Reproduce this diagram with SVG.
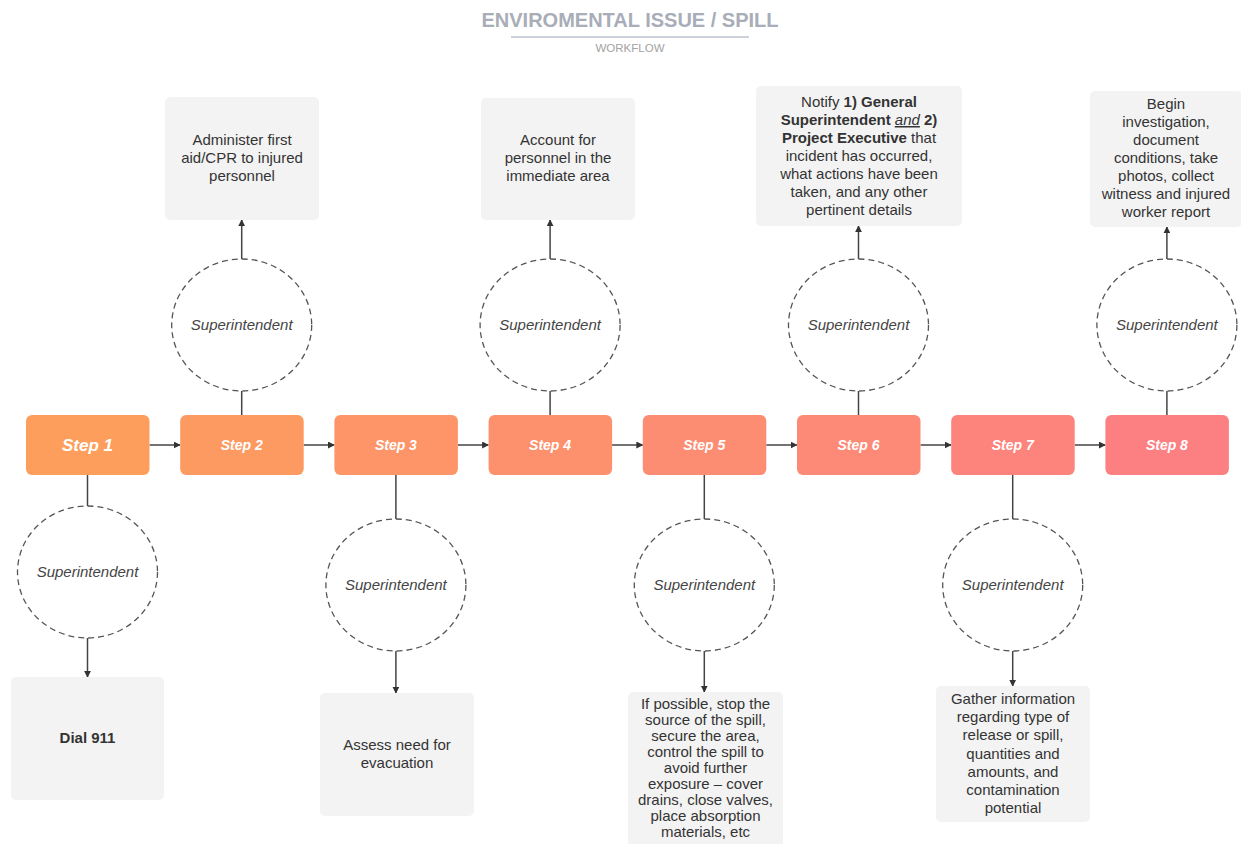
<svg xmlns="http://www.w3.org/2000/svg" width="1241" height="844" viewBox="0 0 1241 844">
<style>
text{font-family:"Liberation Sans",Arial,sans-serif}
.title{font-size:20px;font-weight:bold;fill:#A8ADB7}
.sub{font-size:11.5px;fill:#A3A3A3}
.step{fill:#fff;font-weight:bold;font-style:italic;font-size:14px}
.step1{font-size:17px}
.role{font-style:italic;font-size:15px;fill:#444}
.txt{font-size:15px;fill:#333}
.b{font-weight:bold}
.card{fill:#F3F3F3}
.ring{fill:#fff;stroke:#555;stroke-width:1.3;stroke-dasharray:6 4}
.c{stroke:#444;stroke-width:1.5;fill:none}
.a{stroke:#444;stroke-width:1.5;fill:none;marker-end:url(#ah)}
</style>
<defs>
<marker id="ah" viewBox="0 0 10 10" refX="9" refY="5" markerWidth="7" markerHeight="7" orient="auto" markerUnits="userSpaceOnUse">
<path d="M0,0 L10,5 L0,10 z" fill="#333"/>
</marker>
</defs>
<rect width="1241" height="844" fill="#fff"/>
<g id="title">
<text class="title" x="630" y="27" text-anchor="middle">ENVIROMENTAL ISSUE / SPILL</text>
<line x1="511" y1="37" x2="749" y2="37" stroke="#9AA3B5" stroke-width="1.2"/>
<text class="sub" x="630" y="52" text-anchor="middle">WORKFLOW</text>
</g>
<g id="connectors">
<line class="a" x1="149.5" y1="445" x2="180" y2="445"/>
<line class="a" x1="303.7" y1="445" x2="334.2" y2="445"/>
<line class="a" x1="457.9" y1="445" x2="488.4" y2="445"/>
<line class="a" x1="612.1" y1="445" x2="642.6" y2="445"/>
<line class="a" x1="766.3" y1="445" x2="796.8" y2="445"/>
<line class="a" x1="920.5" y1="445" x2="951" y2="445"/>
<line class="a" x1="1074.7" y1="445" x2="1105.2" y2="445"/>
<line class="c" x1="87.5" y1="475" x2="87.5" y2="506"/>
<line class="a" x1="87.5" y1="638" x2="87.5" y2="677"/>
<line class="c" x1="241.7" y1="415" x2="241.7" y2="391"/>
<line class="a" x1="241.7" y1="259" x2="241.7" y2="220"/>
<line class="c" x1="395.9" y1="475" x2="395.9" y2="519"/>
<line class="a" x1="395.9" y1="651" x2="395.9" y2="693"/>
<line class="c" x1="550.1" y1="415" x2="550.1" y2="391"/>
<line class="a" x1="550.1" y1="259" x2="550.1" y2="220"/>
<line class="c" x1="704.3" y1="475" x2="704.3" y2="519"/>
<line class="a" x1="704.3" y1="651" x2="704.3" y2="692"/>
<line class="c" x1="858.5" y1="415" x2="858.5" y2="391"/>
<line class="a" x1="858.5" y1="259" x2="858.5" y2="226"/>
<line class="c" x1="1012.7" y1="475" x2="1012.7" y2="519"/>
<line class="a" x1="1012.7" y1="651" x2="1012.7" y2="686"/>
<line class="c" x1="1166.9" y1="415" x2="1166.9" y2="391"/>
<line class="a" x1="1166.9" y1="259" x2="1166.9" y2="227"/>
</g>
<g id="step1"><rect x="26" y="415" width="123.5" height="60" rx="6" fill="#FD9E5D"/><text class="step step1" x="87.5" y="451" text-anchor="middle">Step 1</text></g>
<g id="step2"><rect x="180.2" y="415" width="123.5" height="60" rx="6" fill="#FD9A62"/><text class="step" x="241.7" y="450" text-anchor="middle">Step 2</text></g>
<g id="step3"><rect x="334.4" y="415" width="123.5" height="60" rx="6" fill="#FD9568"/><text class="step" x="395.9" y="450" text-anchor="middle">Step 3</text></g>
<g id="step4"><rect x="488.6" y="415" width="123.5" height="60" rx="6" fill="#FD916D"/><text class="step" x="550.1" y="450" text-anchor="middle">Step 4</text></g>
<g id="step5"><rect x="642.8" y="415" width="123.5" height="60" rx="6" fill="#FD8D72"/><text class="step" x="704.3" y="450" text-anchor="middle">Step 5</text></g>
<g id="step6"><rect x="797" y="415" width="123.5" height="60" rx="6" fill="#FD8977"/><text class="step" x="858.5" y="450" text-anchor="middle">Step 6</text></g>
<g id="step7"><rect x="951.2" y="415" width="123.5" height="60" rx="6" fill="#FD847D"/><text class="step" x="1012.7" y="450" text-anchor="middle">Step 7</text></g>
<g id="step8"><rect x="1105.4" y="415" width="123.5" height="60" rx="6" fill="#FC8082"/><text class="step" x="1166.9" y="450" text-anchor="middle">Step 8</text></g>
<g id="role1"><ellipse class="ring" cx="87.5" cy="572" rx="70" ry="66"/><text class="role" x="87.5" y="577" text-anchor="middle">Superintendent</text></g>
<g id="role2"><ellipse class="ring" cx="241.7" cy="325" rx="70" ry="66"/><text class="role" x="241.7" y="330" text-anchor="middle">Superintendent</text></g>
<g id="role3"><ellipse class="ring" cx="395.9" cy="585" rx="70" ry="66"/><text class="role" x="395.9" y="590" text-anchor="middle">Superintendent</text></g>
<g id="role4"><ellipse class="ring" cx="550.1" cy="325" rx="70" ry="66"/><text class="role" x="550.1" y="330" text-anchor="middle">Superintendent</text></g>
<g id="role5"><ellipse class="ring" cx="704.3" cy="585" rx="70" ry="66"/><text class="role" x="704.3" y="590" text-anchor="middle">Superintendent</text></g>
<g id="role6"><ellipse class="ring" cx="858.5" cy="325" rx="70" ry="66"/><text class="role" x="858.5" y="330" text-anchor="middle">Superintendent</text></g>
<g id="role7"><ellipse class="ring" cx="1012.7" cy="585" rx="70" ry="66"/><text class="role" x="1012.7" y="590" text-anchor="middle">Superintendent</text></g>
<g id="role8"><ellipse class="ring" cx="1166.9" cy="325" rx="70" ry="66"/><text class="role" x="1166.9" y="330" text-anchor="middle">Superintendent</text></g>
<g id="task1"><rect class="card" x="11" y="677" width="153" height="123" rx="5"/><text class="txt b" x="87.5" y="743" text-anchor="middle">Dial 911</text></g>
<g id="task2"><rect class="card" x="165" y="97" width="154" height="123" rx="5"/>
<text class="txt" text-anchor="middle"><tspan x="242" y="145">Administer first</tspan><tspan x="242" y="163">aid/CPR to injured</tspan><tspan x="242" y="181">personnel</tspan></text></g>
<g id="task3"><rect class="card" x="320" y="693" width="154" height="123" rx="5"/>
<text class="txt" text-anchor="middle"><tspan x="397" y="750">Assess need for</tspan><tspan x="397" y="768">evacuation</tspan></text></g>
<g id="task4"><rect class="card" x="481" y="98" width="154" height="122" rx="5"/>
<text class="txt" text-anchor="middle"><tspan x="558" y="145">Account for</tspan><tspan x="558" y="163">personnel in the</tspan><tspan x="558" y="181">immediate area</tspan></text></g>
<g id="task5"><rect class="card" x="628" y="692" width="155" height="160" rx="5"/>
<text class="txt" text-anchor="middle"><tspan x="705.5" y="709">If possible, stop the</tspan><tspan x="705.5" y="725">source of the spill,</tspan><tspan x="705.5" y="741">secure the area,</tspan><tspan x="705.5" y="757">control the spill to</tspan><tspan x="705.5" y="773">avoid further</tspan><tspan x="705.5" y="789">exposure – cover</tspan><tspan x="705.5" y="805">drains, close valves,</tspan><tspan x="705.5" y="821">place absorption</tspan><tspan x="705.5" y="837">materials, etc</tspan></text></g>
<g id="task6"><rect class="card" x="756" y="86" width="206" height="140" rx="5"/>
<text class="txt" text-anchor="middle"><tspan x="859" y="107">Notify <tspan class="b">1) General</tspan></tspan><tspan x="859" y="125"><tspan class="b">Superintendent </tspan><tspan font-style="italic" text-decoration="underline">and</tspan><tspan class="b"> 2)</tspan></tspan><tspan x="859" y="143"><tspan class="b">Project Executive</tspan> that</tspan><tspan x="859" y="161">incident has occurred,</tspan><tspan x="859" y="179">what actions have been</tspan><tspan x="859" y="197">taken, and any other</tspan><tspan x="859" y="215">pertinent details</tspan></text></g>
<g id="task7"><rect class="card" x="936" y="686" width="154" height="136" rx="5"/>
<text class="txt" text-anchor="middle"><tspan x="1013" y="704">Gather information</tspan><tspan x="1013" y="722.2">regarding type of</tspan><tspan x="1013" y="740.4">release or spill,</tspan><tspan x="1013" y="758.6">quantities and</tspan><tspan x="1013" y="776.8">amounts, and</tspan><tspan x="1013" y="795">contamination</tspan><tspan x="1013" y="813.2">potential</tspan></text></g>
<g id="task8"><rect class="card" x="1090" y="91" width="152" height="136" rx="5"/>
<text class="txt" text-anchor="middle"><tspan x="1166" y="109">Begin</tspan><tspan x="1166" y="127">investigation,</tspan><tspan x="1166" y="145">document</tspan><tspan x="1166" y="163">conditions, take</tspan><tspan x="1166" y="181">photos, collect</tspan><tspan x="1166" y="199">witness and injured</tspan><tspan x="1166" y="217">worker report</tspan></text></g>
</svg>
